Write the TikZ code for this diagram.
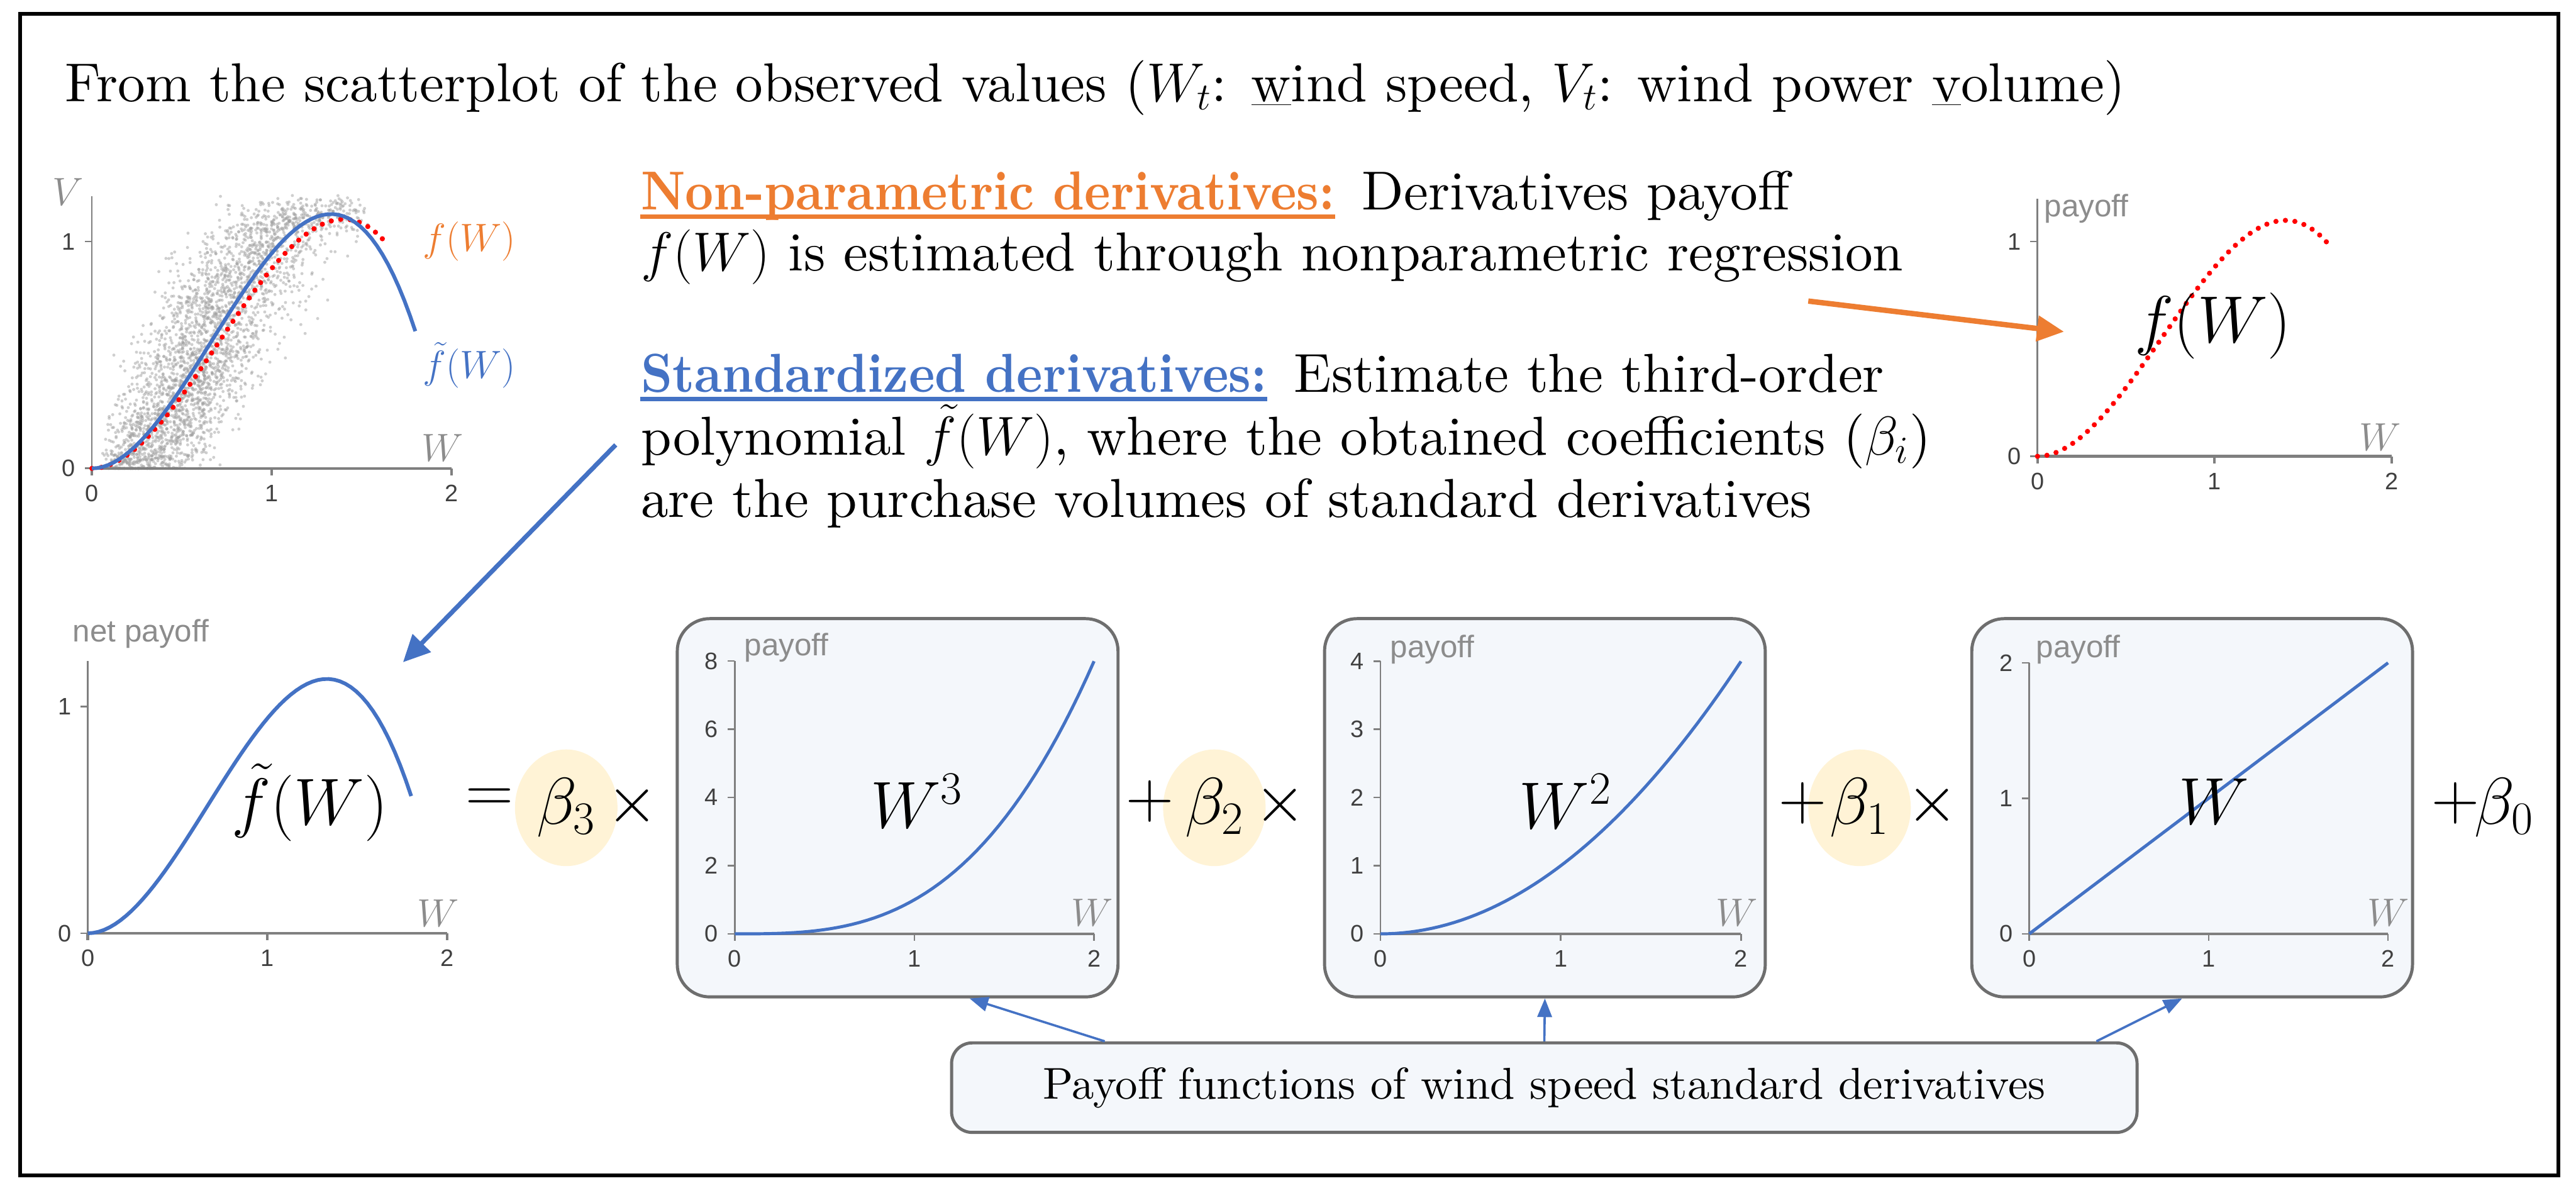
\RequirePackage{fix-cm}
\documentclass[tikz,border=0pt]{standalone}
\usepackage{fontspec}
\setmainfont{lmroman10-regular.otf}[BoldFont=lmroman10-bold.otf,
  ItalicFont=lmroman10-italic.otf, BoldItalicFont=lmroman10-bolditalic.otf]
\newfontfamily\axisfont{Liberation Sans}
\usetikzlibrary{arrows.meta,shapes.geometric}
\definecolor{offblue}{HTML}{4472C4}
\definecolor{offorange}{HTML}{ED7D31}
\definecolor{betafill}{HTML}{FFF3D6}
\definecolor{boxfill}{HTML}{F4F7FB}
\definecolor{boxline}{HTML}{6E6E6E}
\definecolor{axisgray}{HTML}{7F7F7F}
\definecolor{ticktext}{HTML}{404040}
\definecolor{labelgray}{HTML}{8C8C8C}
\definecolor{scatgray}{HTML}{A0A0A0}
\begin{document}
\begin{tikzpicture}[
    txt/.style={anchor=base west, inner sep=0pt, font=\fontsize{26.5}{32}\selectfont},
    hdr/.style={anchor=base west, inner sep=0pt,
        font=\fontsize{26.5}{32}\selectfont\bfseries\addfontfeatures{FakeStretch=0.9}},
    ticklbl/.style={font=\axisfont\fontsize{11.5}{13}\selectfont, text=ticktext, inner sep=1pt},
    axlbl/.style={font=\fontsize{19}{22}\selectfont, text=labelgray, inner sep=0pt},
    paylbl/.style={font=\axisfont\fontsize{15}{18}\selectfont, text=labelgray, anchor=west, inner sep=0pt},
    bigmath/.style={font=\fontsize{32}{38}\selectfont, inner sep=0pt},
    betanode/.style={ellipse, fill=betafill, minimum width=1.74cm, minimum height=1.98cm,
        inner sep=0pt, font=\fontsize{32}{38}\selectfont},
    plotbox/.style={draw=boxline, fill=boxfill, line width=1.5pt, rounded corners=0.55cm,
        minimum width=7.48cm, minimum height=6.42cm},
    notebox/.style={draw=boxline, fill=boxfill, line width=1.5pt, rounded corners=0.35cm,
        minimum width=20.12cm, minimum height=1.52cm, font=\fontsize{21.5}{26}\selectfont},
    xaxis/.style={axisgray, line width=1.3pt},
    yaxis/.style={axisgray, line width=0.8pt},
    curveblue/.style={offblue, line width=1.8pt},
    reddots/.style={red, line width=2.5pt, line cap=round, dash pattern=on 0pt off 4.6pt},
    bigarr/.style={line width=2.2pt, -{Triangle[length=13pt,width=12pt]}},
    thinarr/.style={offblue, line width=1.1pt, -{Triangle[length=9pt,width=7pt]}}
  ]
  \useasboundingbox (0,0) rectangle (43.72,-20.24);
  % outer frame
  \draw[line width=1.8pt] (0.34,-0.23) rectangle (43.42,-19.95);

  % title line
  \node[txt] (title) at (1.10,-1.72) {From the scatterplot of the observed values ($W_t$: \underline{w}ind speed, $V_t$: wind power \underline{v}olume)};

  % explanation text
  \node[hdr, text=offorange] (nphead) at (10.87,-3.56) {Non-parametric derivatives:};
  \node[txt] (nptext) at ([xshift=0.45cm]nphead.base east) {Derivatives payoff};
  \draw[offorange, line width=2pt] ([yshift=-0.12cm]nphead.base west) -- ([yshift=-0.12cm]nphead.base east);
  \node[txt] (npline) at (10.87,-4.60) {$f(W)$ is estimated through nonparametric regression};
  \node[hdr, text=offblue] (sdhead) at (10.87,-6.65) {Standardized derivatives:};
  \node[txt] (sdtext) at ([xshift=0.45cm]sdhead.base east) {Estimate the third-order};
  \draw[offblue, line width=2pt] ([yshift=-0.12cm]sdhead.base west) -- ([yshift=-0.12cm]sdhead.base east);
  \node[txt] (sdline) at (10.87,-7.72) {polynomial $\tilde{f}(W)$, where the obtained coefficients ($\beta_i$)};
  \node[txt] (sdlast) at (10.87,-8.78) {are the purchase volumes of standard derivatives};

  % scatterplot of the observations
  \begin{scope}[shift={(1.56,-7.95)}, x=3.05cm, y=3.85cm]
    \pgfmathsetseed{42}
    \foreach \i in {1,...,3000}{
      \pgfmathsetmacro{\uu}{(rnd+rnd)/2}
      \pgfmathsetmacro{\wv}{0.05+1.5*\uu*(0.5+0.5*\uu)}
      \pgfmathsetmacro{\sv}{max(0,min(1.33,\wv+0.4*(rnd+rnd+rnd-1.5)))}
      \pgfmathsetmacro{\vv}{min(1.22,max(0,1.9*\sv*\sv-0.952*\sv*\sv*\sv+0.1*(rnd+rnd-1)))}
      \fill[scatgray, opacity=0.5] (\wv,\vv) circle (0.75pt);
    }
    \draw[yaxis] (0,1.2) -- (0,0);
    \draw[xaxis] (0,0) -- (2,0);
    \foreach \t in {0,1,2}{
      \draw[xaxis] (\t,0) -- ++(0,-0.12cm);
      \node[ticklbl, anchor=north] (sx\t) at ([yshift=-0.24cm]\t,0) {\t};
    }
    \foreach \t in {0,1}{
      \draw[yaxis] (0,\t) -- ++(-0.12cm,0);
      \node[ticklbl, anchor=east] (sy\t) at ([xshift=-0.24cm]0,\t) {\t};
    }
    \node[axlbl] (sV) at (-0.134,1.22) {$V$};
    \node[axlbl] (sW) at (1.95,0.09) {$W$};
    \draw[reddots] plot[domain=0:1.65, samples=60] (\x,{0.98*(1.9*(0.95*\x)^2-0.952*(0.95*\x)^3)});
    \draw[curveblue] plot[domain=0:1.8, samples=60] (\x,{1.9*\x^2-0.952*\x^3});
    \node[axlbl, text=offorange] (sf) at (2.10,1.0) {$f(W)$};
    \node[axlbl, text=offblue] (sft) at (2.10,0.455) {$\tilde{f}(W)$};
  \end{scope}

  % non-parametric payoff
  \begin{scope}[shift={(34.58,-7.745)}, x=3.005cm, y=3.645cm]
    \draw[yaxis] (0,1.2) -- (0,0);
    \draw[xaxis] (0,0) -- (2,0);
    \foreach \t in {0,1,2}{
      \draw[xaxis] (\t,0) -- ++(0,-0.12cm);
      \node[ticklbl, anchor=north] (nx\t) at ([yshift=-0.24cm]\t,0) {\t};
    }
    \foreach \t in {0,1}{
      \draw[yaxis] (0,\t) -- ++(-0.12cm,0);
      \node[ticklbl, anchor=east] (ny\t) at ([xshift=-0.24cm]0,\t) {\t};
    }
    \node[paylbl] (npay) at (0.037,1.154) {payoff};
    \node[axlbl] (nW) at (1.937,0.089) {$W$};
    \draw[reddots] plot[domain=0:1.65, samples=60] (\x,{0.98*(1.9*(0.95*\x)^2-0.952*(0.95*\x)^3)});
    \node[bigmath] (nf) at (0.992,0.608) {$f(W)$};
  \end{scope}

  % net payoff of the polynomial
  \begin{scope}[shift={(1.49,-15.84)}, x=3.05cm, y=3.85cm]
    \draw[yaxis] (0,1.2) -- (0,0);
    \draw[xaxis] (0,0) -- (2,0);
    \foreach \t in {0,1,2}{
      \draw[xaxis] (\t,0) -- ++(0,-0.12cm);
      \node[ticklbl, anchor=north] (px\t) at ([yshift=-0.24cm]\t,0) {\t};
    }
    \foreach \t in {0,1}{
      \draw[yaxis] (0,\t) -- ++(-0.12cm,0);
      \node[ticklbl, anchor=east] (py\t) at ([xshift=-0.24cm]0,\t) {\t};
    }
    \node[paylbl] (pnet) at (-0.085,1.32) {net payoff};
    \node[axlbl] (pW) at (1.95,0.088) {$W$};
    \draw[curveblue] plot[domain=0:1.8, samples=60] (\x,{1.9*\x^2-0.952*\x^3});
    \node[bigmath] (pf) at (1.236,0.577) {$\tilde{f}(W)$};
  \end{scope}

  % polynomial terms
  \node[betanode] (b3) at (9.61,-13.71) {$\beta_3$};
  \node[betanode] (b2) at (20.61,-13.71) {$\beta_2$};
  \node[betanode] (b1) at (31.56,-13.71) {$\beta_1$};
  \node[bigmath] (eq) at (8.31,-13.58) {$=$};
  \node[bigmath] (x3) at (10.73,-13.67) {$\times$};
  \node[plotbox] (box3) at (15.235,-13.71) {};
  \node[bigmath] (p2) at (19.52,-13.60) {$+$};
  \node[bigmath] (x2) at (21.73,-13.66) {$\times$};
  \node[plotbox] (box2) at (26.22,-13.71) {};
  \node[bigmath] (p1) at (30.60,-13.63) {$+$};
  \node[bigmath] (x1) at (32.80,-13.66) {$\times$};
  \node[plotbox] (box1) at (37.205,-13.71) {};
  \node[bigmath] (p0) at (41.67,-13.63) {$+$};
  \node[bigmath] (b0) at (42.50,-13.71) {$\beta_0$};

  % W^3
  \begin{scope}[shift={(12.47,-15.85)}, x=3.05cm, y=0.579cm]
    \draw[yaxis] (0,8) -- (0,0);
    \draw[xaxis] (0,0) -- (2,0);
    \foreach \t in {0,1,2}{
      \draw[yaxis] (\t,0) -- ++(0,-0.12cm);
      \node[ticklbl, anchor=north] (cx\t) at ([yshift=-0.24cm]\t,0) {\t};
    }
    \foreach \t in {0,2,4,6,8}{
      \draw[yaxis] (0,\t) -- ++(-0.12cm,0);
      \node[ticklbl, anchor=east] (cy\t) at ([xshift=-0.24cm]0,\t) {\t};
    }
    \node[paylbl] (cpay) at (0.052,8.39) {payoff};
    \node[axlbl] (cW) at (1.99,0.62) {$W$};
    \draw[curveblue, line width=1.5pt] plot[domain=0:2, samples=50] (\x,{\x*\x*\x});
    \node[bigmath] (cf) at (1.013,3.89) {$W^3$};
  \end{scope}

  % W^2
  \begin{scope}[shift={(23.43,-15.85)}, x=3.06cm, y=1.157cm]
    \draw[yaxis] (0,4) -- (0,0);
    \draw[xaxis] (0,0) -- (2,0);
    \foreach \t in {0,1,2}{
      \draw[yaxis] (\t,0) -- ++(0,-0.12cm);
      \node[ticklbl, anchor=north] (qx\t) at ([yshift=-0.24cm]\t,0) {\t};
    }
    \foreach \t in {0,1,2,3,4}{
      \draw[yaxis] (0,\t) -- ++(-0.12cm,0);
      \node[ticklbl, anchor=east] (qy\t) at ([xshift=-0.24cm]0,\t) {\t};
    }
    \node[paylbl] (qpay) at (0.052,4.17) {payoff};
    \node[axlbl] (qW) at (1.977,0.31) {$W$};
    \draw[curveblue, line width=1.5pt] plot[domain=0:2, samples=50] (\x,{\x*\x});
    \node[bigmath] (qf) at (1.026,1.945) {$W^2$};
  \end{scope}

  % W
  \begin{scope}[shift={(34.44,-15.85)}, x=3.045cm, y=2.30cm]
    \draw[yaxis] (0,2) -- (0,0);
    \draw[xaxis] (0,0) -- (2,0);
    \foreach \t in {0,1,2}{
      \draw[yaxis] (\t,0) -- ++(0,-0.12cm);
      \node[ticklbl, anchor=north] (lx\t) at ([yshift=-0.24cm]\t,0) {\t};
    }
    \foreach \t in {0,1,2}{
      \draw[yaxis] (0,\t) -- ++(-0.12cm,0);
      \node[ticklbl, anchor=east] (ly\t) at ([xshift=-0.24cm]0,\t) {\t};
    }
    \node[paylbl] (lpay) at (0.036,2.1) {payoff};
    \node[axlbl] (lW) at (2.0,0.157) {$W$};
    \draw[curveblue, line width=1.5pt] (0,0) -- (2,2);
    \node[bigmath] (lf) at (1.03,0.978) {$W$};
  \end{scope}

  % note on the standard derivatives
  \node[notebox] (pfbox) at (26.21,-18.46) {Payoff functions of wind speed standard derivatives};
  \draw[thinarr] ([xshift=-7.46cm]pfbox.north) -- ([xshift=1.22cm]box3.south);
  \draw[thinarr] (pfbox.north) -- (box2.south);
  \draw[thinarr] ([xshift=9.37cm]pfbox.north) -- ([xshift=-0.17cm]box1.south);

  % arrows from the text
  \coordinate (npstart) at (30.69,-5.11);
  \coordinate (npend) at (35.03,-5.63);
  \draw[bigarr, offorange, line width=2.6pt] (npstart) -- (npend);
  \coordinate (sdstart) at (10.45,-7.55);
  \coordinate (sdend) at (6.84,-11.24);
  \draw[bigarr, offblue] (sdstart) -- (sdend);
\end{tikzpicture}
\end{document}
